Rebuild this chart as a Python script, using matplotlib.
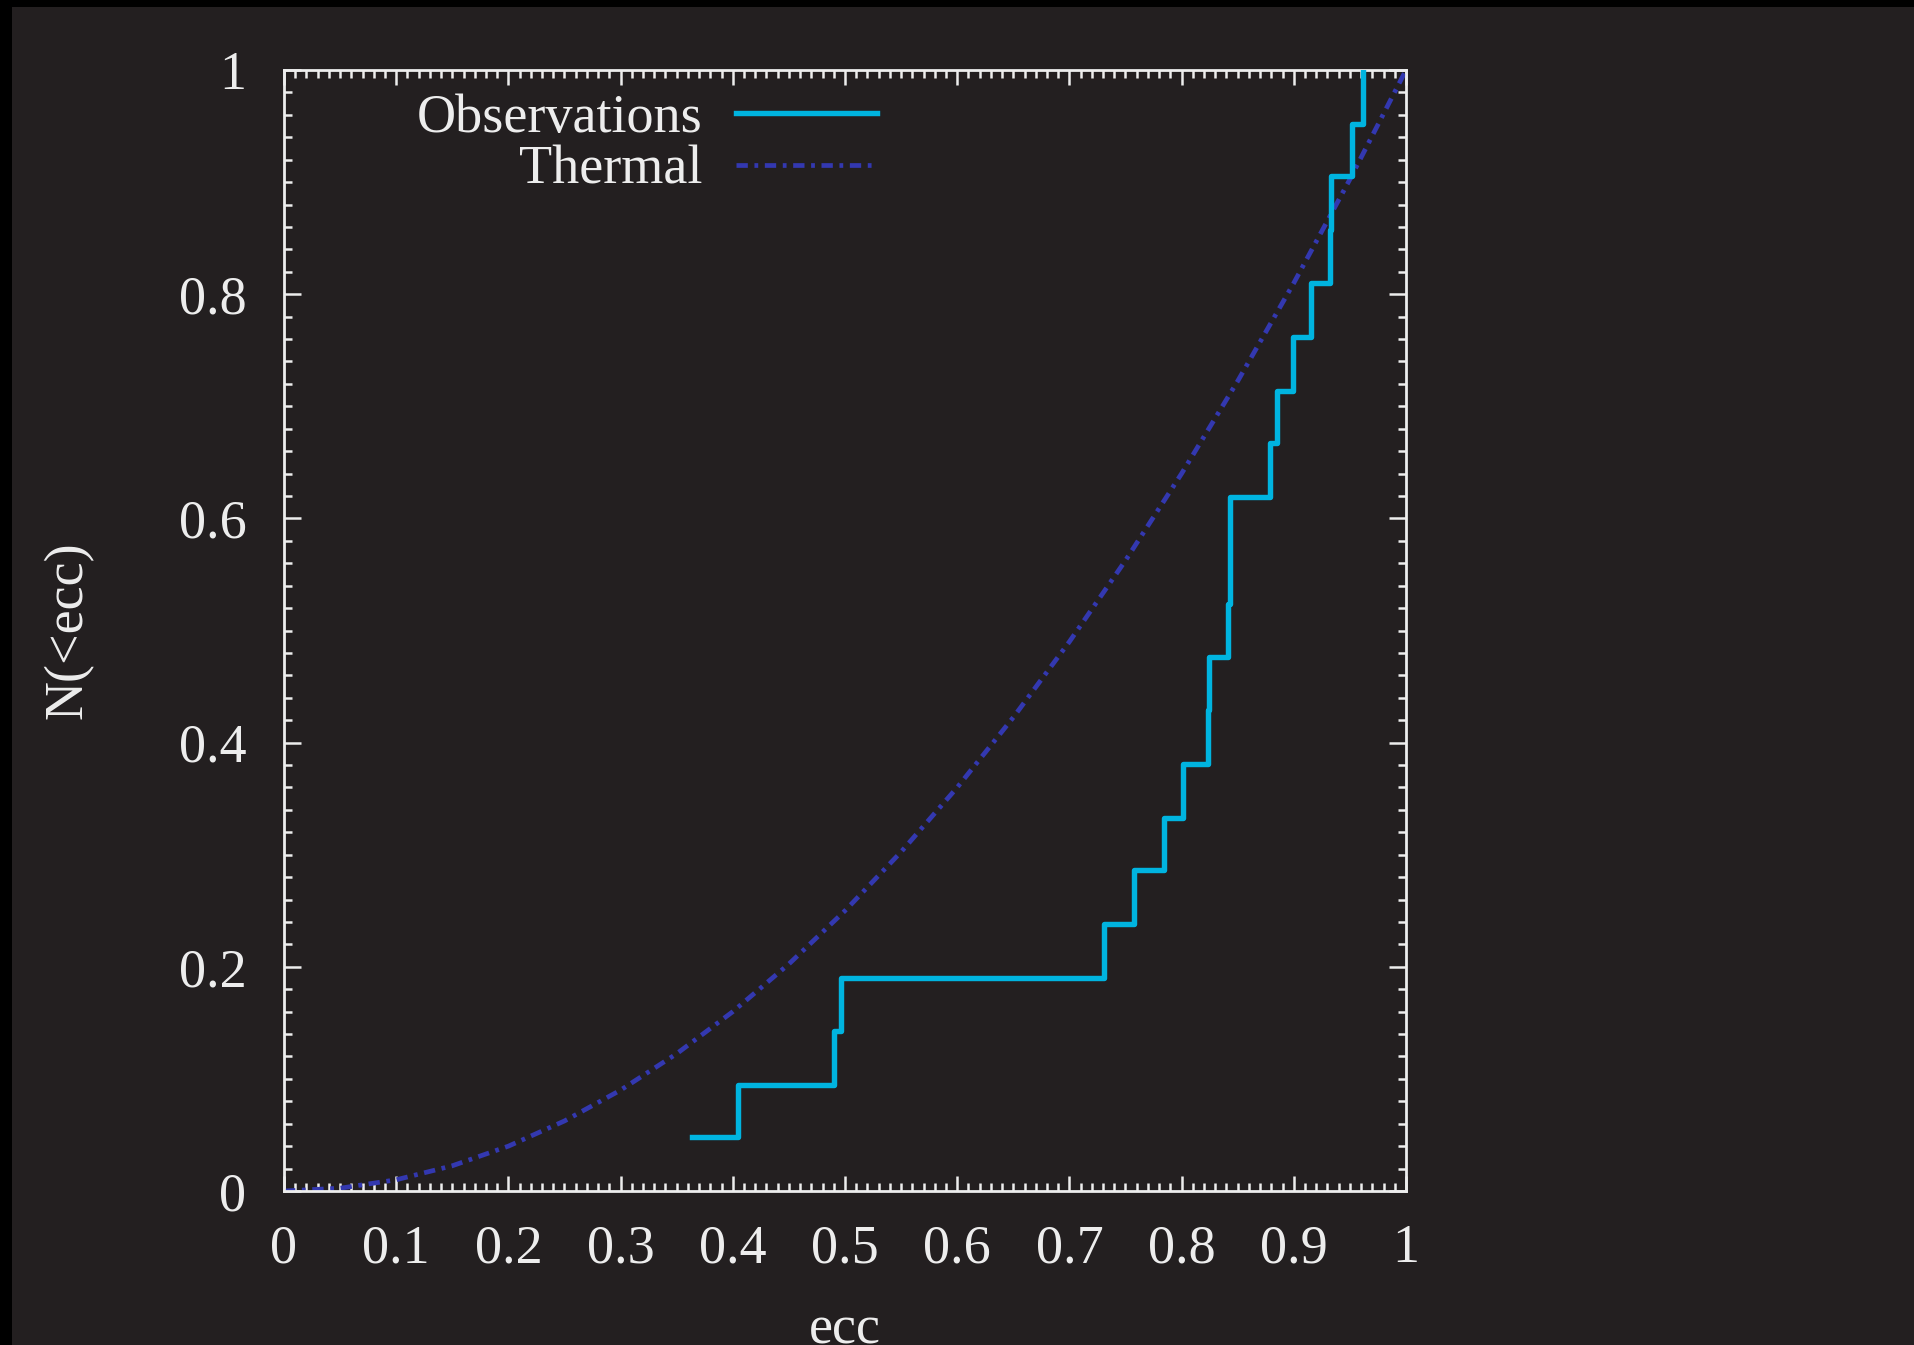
import matplotlib
matplotlib.use("Agg")
import matplotlib.pyplot as plt
from matplotlib.patches import Rectangle
from matplotlib.ticker import MultipleLocator

# observed eccentricities (cumulative steps)
obs_ecc = [0.364, 0.405, 0.490, 0.496, 0.731, 0.758, 0.784, 0.8015, 0.8235, 0.824,
           0.8417, 0.8431, 0.8432, 0.8788, 0.8853, 0.8996, 0.915, 0.9325, 0.9329,
           0.9516, 0.962]
obs_frac = [0.048, 0.095, 0.143, 0.190, 0.238, 0.286, 0.333, 0.381, 0.429, 0.476,
            0.524, 0.571, 0.619, 0.667, 0.714, 0.762, 0.810, 0.857, 0.905, 0.952, 1.0]

# thermal distribution
th_ecc = [0.0, 0.05, 0.10, 0.15, 0.20, 0.25, 0.30, 0.35, 0.40, 0.45, 0.50,
          0.55, 0.60, 0.65, 0.70, 0.75, 0.80, 0.85, 0.90, 0.95, 1.0]
th_frac = [0.0, 0.0025, 0.01, 0.0225, 0.04, 0.0625, 0.09, 0.1225, 0.16, 0.2025, 0.25,
           0.3025, 0.36, 0.4225, 0.49, 0.5625, 0.64, 0.7225, 0.81, 0.9025, 1.0]

bg = "#231f20"
fg = "#ededed"

plt.rcParams['font.family'] = ['Liberation Serif', 'DejaVu Serif']

fig = plt.figure(figsize=(19.15, 13.45), dpi=100, facecolor="black")
fig.add_artist(Rectangle((12 / 1915, 0), 1, 1 - 7 / 1345, transform=fig.transFigure,
                         facecolor=bg, edgecolor="none", zorder=-10))
ax = fig.add_axes([284 / 1915, 1 - 1191 / 1345, 1122 / 1915, 1121 / 1345])
ax.set_facecolor(bg)

ax.step(obs_ecc, obs_frac, where="post", color="#00b4e0", lw=3.9,
        label="Observations", zorder=3)
ax.plot(th_ecc, th_frac, color="#3338b0", lw=3.4, dashes=(2.4, 1.4, 0.8, 1.4),
        label="Thermal", zorder=2)

ax.set_xlim(0, 1)
ax.set_ylim(0, 1)
ax.xaxis.set_major_locator(MultipleLocator(0.1))
ax.xaxis.set_minor_locator(MultipleLocator(0.01))
ax.yaxis.set_major_locator(MultipleLocator(0.2))
ax.yaxis.set_minor_locator(MultipleLocator(0.02))
ax.xaxis.set_major_formatter(plt.FuncFormatter(lambda v, p: "%g" % round(v, 2)))
ax.yaxis.set_major_formatter(plt.FuncFormatter(lambda v, p: "%g" % round(v, 2)))

for s in ax.spines.values():
    s.set_color(fg)
    s.set_linewidth(2)
ax.tick_params(which="both", direction="in", top=True, right=True, colors=fg,
               labelsize=39, width=1.8)
ax.tick_params(axis="x", which="major", length=11, pad=23.5)
ax.tick_params(axis="y", which="major", length=12, pad=27)
ax.tick_params(which="minor", length=5.5)

ax.set_xlabel("ecc", fontsize=39, color=fg, labelpad=22)
ax.set_ylabel("N(<ecc)", fontsize=39, color=fg, labelpad=61)

leg = ax.legend(loc="upper right", bbox_to_anchor=(0.5285, 0.979), frameon=False,
                markerfirst=False, fontsize=39, handlelength=2.6, handletextpad=0.63,
                labelspacing=0.02, borderpad=0, borderaxespad=0)
for t in leg.get_texts():
    t.set_color(fg)

fig.savefig("out.png", dpi=100, facecolor=fig.get_facecolor())
